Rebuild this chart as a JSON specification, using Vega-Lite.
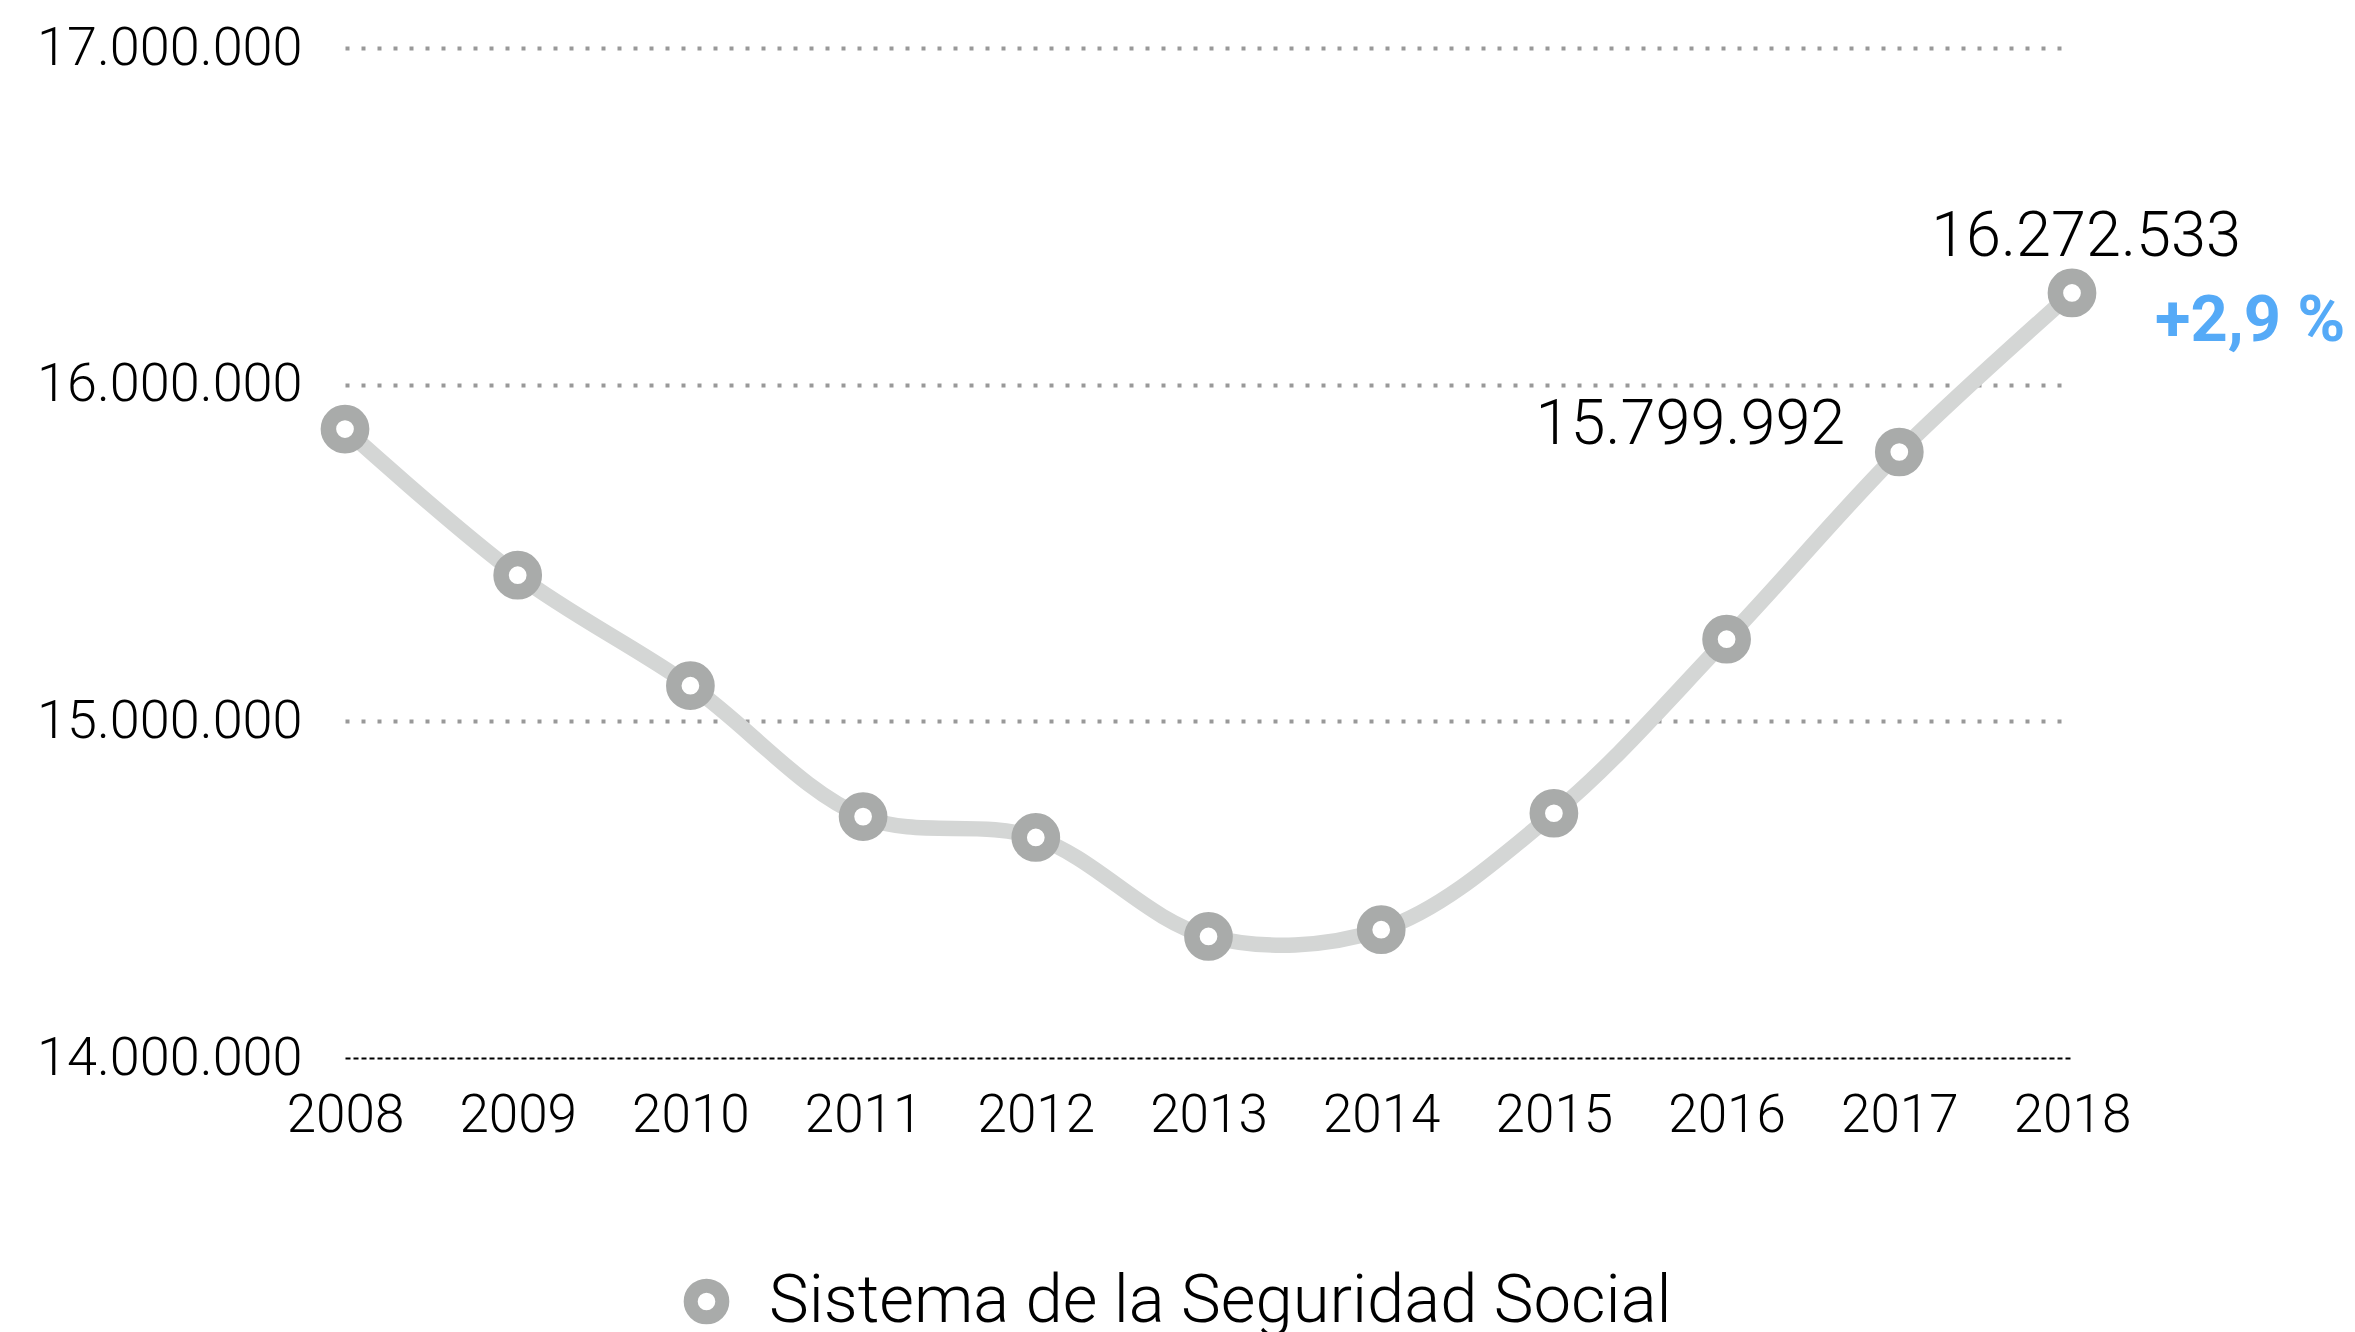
{
  "$schema": "https://vega.github.io/schema/vega-lite/v6.json",
  "autosize": "none",
  "width": 1727,
  "height": 1010,
  "padding": {"left": 345, "top": 48, "right": 283, "bottom": 274},
  "background": "white",
  "config": {
    "view": {"stroke": null},
    "font": "Roboto",
    "axis": {"labelFont": "Roboto", "labelFontWeight": 300, "labelColor": "#000000", "labelLimit": 500}
  },
  "data": {
    "values": [
      {"year": 2008, "value": 15868000, "serie": "Sistema de la Seguridad Social", "label": "", "change": ""},
      {"year": 2009, "value": 15434000, "serie": "Sistema de la Seguridad Social", "label": "", "change": ""},
      {"year": 2010, "value": 15106000, "serie": "Sistema de la Seguridad Social", "label": "", "change": ""},
      {"year": 2011, "value": 14717000, "serie": "Sistema de la Seguridad Social", "label": "", "change": ""},
      {"year": 2012, "value": 14655000, "serie": "Sistema de la Seguridad Social", "label": "", "change": ""},
      {"year": 2013, "value": 14361000, "serie": "Sistema de la Seguridad Social", "label": "", "change": ""},
      {"year": 2014, "value": 14381000, "serie": "Sistema de la Seguridad Social", "label": "", "change": ""},
      {"year": 2015, "value": 14727000, "serie": "Sistema de la Seguridad Social", "label": "", "change": ""},
      {"year": 2016, "value": 15244000, "serie": "Sistema de la Seguridad Social", "label": "", "change": ""},
      {"year": 2017, "value": 15799992, "serie": "Sistema de la Seguridad Social", "label": "15.799.992", "change": ""},
      {"year": 2018, "value": 16272533, "serie": "Sistema de la Seguridad Social", "label": "16.272.533", "change": "+2,9 %"}
    ]
  },
  "encoding": {
    "x": {
      "field": "year", "type": "quantitative",
      "scale": {"domain": [2008, 2018], "nice": false, "zero": false},
      "axis": {
        "title": null,
        "values": [2008, 2009, 2010, 2011, 2012, 2013, 2014, 2015, 2016, 2017, 2018],
        "format": "d",
        "grid": false,
        "ticks": false,
        "labelFontSize": 53,
        "labelPadding": 31,
        "labelFlush": false,
        "domain": true,
        "domainColor": "#000000",
        "domainWidth": 2,
        "domainDash": [5, 3],
        "zindex": 1
      }
    },
    "y": {
      "field": "value", "type": "quantitative",
      "scale": {"domain": [14000000, 17000000], "nice": false, "zero": false},
      "axis": {
        "title": null,
        "values": [14000000, 15000000, 16000000, 17000000],
        "labelExpr": "replace(replace(format(datum.value, ',d'), ',', '.'), ',', '.')",
        "domain": false,
        "ticks": false,
        "labelFontSize": 54,
        "labelPadding": 43,
        "labelLimit": 500,
        "grid": true,
        "gridColor": {"condition": {"test": "datum.value == 14000000", "value": "transparent"}, "value": "#999999"},
        "gridWidth": 4,
        "gridDash": [4, 12],
        "gridCap": "butt"
      }
    }
  },
  "layer": [
    {
      "mark": {"type": "line", "interpolate": "catmull-rom", "color": "#d4d6d5", "strokeWidth": 15.5}
    },
    {
      "mark": {"type": "point", "shape": "circle", "filled": false, "fill": "#ffffff", "fillOpacity": 1, "strokeWidth": 15.5, "size": 1104, "opacity": 1},
      "encoding": {
        "stroke": {
          "field": "serie", "type": "nominal",
          "scale": {"range": ["#a9abaa"]},
          "legend": {
            "title": null,
            "orient": "none",
            "legendX": 328,
            "legendY": 1220,
            "padding": 0,
            "symbolType": "circle",
            "symbolSize": 1000,
            "symbolStrokeWidth": 14,
            "symbolFillColor": "#ffffff",
            "symbolStrokeColor": "#a9abaa",
            "labelFont": "Roboto",
            "labelFontWeight": 300,
            "labelFontSize": 67,
            "labelColor": "#000000",
            "labelOffset": 29,
            "labelLimit": 2000
          }
        }
      }
    },
    {
      "transform": [{"filter": "datum.year == 2018"}],
      "mark": {"type": "text", "align": "center", "baseline": "alphabetic", "dx": 14, "dy": -37, "fontSize": 63, "fontWeight": 300, "font": "Roboto", "color": "#000000"},
      "encoding": {"text": {"field": "label"}}
    },
    {
      "transform": [{"filter": "datum.year == 2017"}],
      "mark": {"type": "text", "align": "right", "baseline": "alphabetic", "dx": -54, "dy": -8, "fontSize": 63, "fontWeight": 300, "font": "Roboto", "color": "#000000"},
      "encoding": {"text": {"field": "label"}}
    },
    {
      "transform": [{"filter": "datum.year == 2018"}],
      "mark": {"type": "text", "align": "left", "baseline": "middle", "dx": 83, "dy": 28, "fontSize": 65, "fontWeight": "bold", "font": "Roboto", "color": "#55aaf7"},
      "encoding": {"text": {"field": "change"}}
    }
  ]
}
